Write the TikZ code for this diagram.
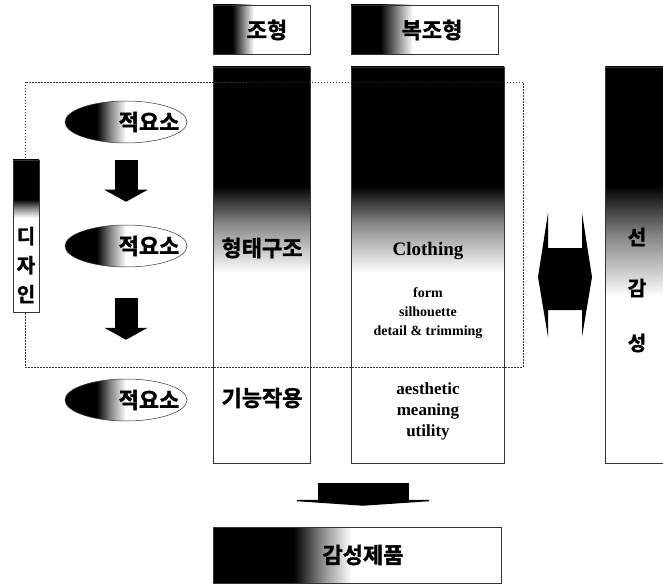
\documentclass[tikz,border=0pt]{standalone}
\usepackage{fontspec}
\setmainfont{Liberation Serif}
\newfontfamily\kofont{Noto Sans CJK KR}[BoldFont={Noto Sans CJK KR Bold}, BoldFeatures={FakeBold=1.6}]
\usetikzlibrary{arrows.meta,shapes.geometric}
% fades of the scanned boxes
\pgfdeclarehorizontalshading{boxfade}{100bp}{color(0bp)=(black); color(35bp)=(black); color(41bp)=(black!45); color(46bp)=(white); color(100bp)=(white)}
\pgfdeclarehorizontalshading{ellfade}{100bp}{color(0bp)=(black); color(38bp)=(black); color(44bp)=(black!45); color(50bp)=(white); color(100bp)=(white)}
\pgfdeclarehorizontalshading{barfade}{100bp}{color(0bp)=(black); color(39bp)=(black); color(44bp)=(black!45); color(49bp)=(white); color(100bp)=(white)}
\pgfdeclareverticalshading{colfade}{100bp}{color(0bp)=(white); color(49bp)=(white); color(55bp)=(black!45); color(60bp)=(black); color(100bp)=(black)}
\pgfdeclareverticalshading{sidefade}{100bp}{color(0bp)=(white); color(46bp)=(white); color(54bp)=(black!50); color(60bp)=(black); color(100bp)=(black)}
\pgfdeclareverticalshading{tagfade}{100bp}{color(0bp)=(white); color(56bp)=(white); color(59bp)=(black!45); color(62bp)=(black); color(100bp)=(black)}

\begin{document}
\begin{tikzpicture}[x=1pt, y=-1pt,
		frame/.style={draw=black!80, line width=0.5pt, shade, inner sep=0pt},
		ell/.style={ellipse, draw=black!80, line width=0.5pt, shade, shading=ellfade,
		            minimum width=122pt, minimum height=42pt, inner sep=0pt},
		ko/.style={font=\kofont\bfseries\fontsize{22}{28}\selectfont, inner sep=0pt},
		en/.style={font=\bfseries\fontsize{17}{21}\selectfont, align=center, inner sep=0pt},
		blockarrow/.style={line width=23pt, -{Triangle[width=43pt,length=12pt]}}]
		\clip (0,0) rectangle (663,585);
		\node[frame, shading=boxfade, minimum width=97pt, minimum height=49pt] (hd1) at (261.5,29.5) {};
		\node[frame, shading=boxfade, minimum width=147pt, minimum height=49pt] (hd2) at (424.5,29.5) {};
		\node[ko] (hd1t) at (267,30) {조형};
		\node[ko] (hd2t) at (432,30) {복조형};
		\node[frame, shading=colfade, minimum width=97pt, minimum height=396pt] (col1) at (261.5,265) {};
		\node[frame, shading=colfade, minimum width=153pt, minimum height=396pt] (col2) at (427.5,265) {};
		\node[frame, shading=sidefade, minimum width=80pt, minimum height=396pt, anchor=west] (sense) at (605,265) {};
		% design scope
		\draw[black!80, line width=0.5pt, dash pattern=on 1.5pt off 1.5pt] (25,82) rectangle (523,367);
		\node[frame, shading=tagfade, minimum width=26pt, minimum height=152pt] (tag) at (26,236) {};
		\node[ko, align=center, font=\kofont\bfseries\fontsize{20}{29}\selectfont] (tagt) at (26,265) {디\\자\\인};
		\foreach \n/\y in {1/122, 2/246, 3/400} {
			\node[ell] (e\n) at (126,\y) {};
			\node[ko] (e\n t) at (149,\y) {적요소};
		}
		\draw[blockarrow, shorten <=17pt, shorten >=23pt] (e1.south) -- (e2.north);
		\draw[blockarrow, shorten <=31pt, shorten >=39pt] (e2.south) -- (e3.north);
		\node[ko] (form) at (262,248) {형태구조};
		\node[ko] (func) at (262,398) {기능작용};
		\node[en, font=\bfseries\fontsize{19}{21}\selectfont] (cloth) at (428,251) {Clothing};
		\node[en, font=\bfseries\fontsize{14}{19}\selectfont] (parts) at (428,313) {form\\silhouette\\detail \& trimming};
		\node[en] (roles) at (428,411) {aesthetic\\meaning\\utility};
		\foreach \c/\y in {선/237, 감/288, 성/343}
			\node[ko, font=\kofont\bfseries\fontsize{20}{24}\selectfont] (s\y) at (637,\y) {\c};
		% two-way link
		\coordinate (link) at (565,277);
		\fill[shift={(link)}] (-27,0) -- (-17,-64) -- (-17,-29) -- (17,-29) -- (17,-64) -- (27,0)
			-- (17,60) -- (17,33) -- (-17,33) -- (-17,60) -- cycle;
		\node[frame, shading=barfade, minimum width=288pt, minimum height=56pt] (prod) at (357,555) {};
		\node[ko] (prodt) at (363,555) {감성제품};
		\coordinate (merge) at (363,483);
		\draw[line width=91pt, -{Triangle[width=176pt,length=6pt]}, shorten >=21pt] (merge) -- (merge |- prod.north);
	\end{tikzpicture}
\end{document}
